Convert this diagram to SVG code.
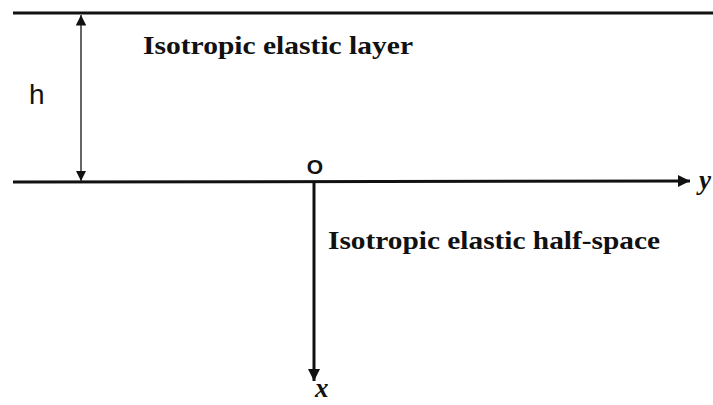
<svg xmlns="http://www.w3.org/2000/svg" width="713" height="405" viewBox="0 0 713 405">
<style>
.ln{stroke:#111;stroke-width:3;fill:none}
.thin{stroke:#333;stroke-width:1.5;fill:none}
.lbl{font-family:'Liberation Serif','Times New Roman',serif;font-weight:bold;font-size:26px;fill:#111}
.sans{font-family:'Liberation Sans',Arial,sans-serif;fill:#111}
.ax{font-family:'Liberation Serif','Times New Roman',serif;font-weight:bold;font-style:italic;font-size:27px;fill:#111}
</style>
<defs>
<marker id="ah" viewBox="0 0 10 10" refX="10" refY="5" markerWidth="4" markerHeight="4" orient="auto" markerUnits="strokeWidth"><path d="M0,0 L10,5 L0,10 z" fill="#111"/></marker>
<marker id="ahs" viewBox="0 0 10 10" refX="10" refY="5" markerWidth="7" markerHeight="7" orient="auto-start-reverse" markerUnits="strokeWidth"><path d="M0,0 L10,5 L0,10 z" fill="#111"/></marker>
</defs>
<g id="connectors">
<line class="ln" x1="13" y1="13" x2="713" y2="13"/>
<line class="ln" x1="13" y1="182" x2="690" y2="181" marker-end="url(#ah)"/>
<line class="ln" x1="314" y1="182" x2="314" y2="381" marker-end="url(#ah)"/>
<line class="thin" x1="81" y1="15" x2="81" y2="181" marker-start="url(#ahs)" marker-end="url(#ahs)"/>
</g>
<g id="layer-label"><text class="lbl" x="143" y="54" textLength="270" lengthAdjust="spacingAndGlyphs">Isotropic elastic layer</text></g>
<g id="halfspace-label"><text class="lbl" x="328" y="249" textLength="332" lengthAdjust="spacingAndGlyphs">Isotropic elastic half-space</text></g>
<g id="h-label"><text class="sans" x="29" y="104" font-size="28">h</text></g>
<g id="origin-label"><text class="sans" x="315" y="174" font-size="21" font-weight="bold" text-anchor="middle">O</text></g>
<g id="y-label"><text class="ax" x="699" y="189">y</text></g>
<g id="x-label"><text class="ax" x="315" y="397">x</text></g>
</svg>
